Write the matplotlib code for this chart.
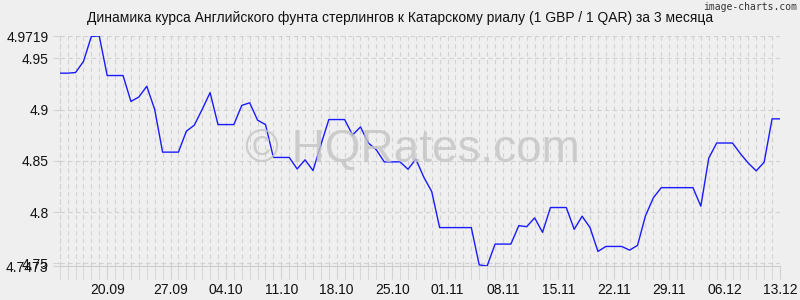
# -*- coding: utf-8 -*-
"""GBP/QAR rate over 3 months."""

import numpy as np
from matplotlib import pyplot as plt
from matplotlib.ticker import MultipleLocator

plt.rcParams['font.family'] = ['Liberation Sans', 'DejaVu Sans']

# daily rates, 13.09 .. 13.12
rates = [
    4.9356, 4.9356, 4.9362, 4.9470, 4.9715, 4.9719, 4.9333, 4.9333,
    4.9333, 4.9080, 4.9123, 4.9228, 4.9002, 4.8585, 4.8585, 4.8585,
    4.8789, 4.8848, 4.9002, 4.9166, 4.8854, 4.8854, 4.8854, 4.9041,
    4.9067, 4.8897, 4.8854, 4.8533, 4.8533, 4.8533, 4.8421, 4.8510,
    4.8405, 4.8657, 4.8903, 4.8903, 4.8903, 4.8752, 4.8831, 4.8674,
    4.8608, 4.8490, 4.8490, 4.8490, 4.8418, 4.8516, 4.8340, 4.8200,
    4.7848, 4.7848, 4.7848, 4.7848, 4.7848, 4.7484, 4.7473, 4.7687,
    4.7687, 4.7687, 4.7867, 4.7857, 4.7943, 4.7802, 4.8044, 4.8044,
    4.8044, 4.7831, 4.7959, 4.7848, 4.7615, 4.7664, 4.7664, 4.7664,
    4.7628, 4.7674, 4.7962, 4.8139, 4.8238, 4.8238, 4.8238, 4.8238,
    4.8238, 4.8057, 4.8526, 4.8674, 4.8674, 4.8674, 4.8570, 4.8477,
    4.8402, 4.8487, 4.8910, 4.8910,
]

xtick_pos = [6, 14, 21, 28, 35, 42, 49, 56, 63, 70, 77, 84, 91]
xtick_labels = ["20.09", "27.09", "04.10", "11.10", "18.10", "25.10", "01.11",
                "08.11", "15.11", "22.11", "29.11", "06.12", "13.12"]
ytick_vals = [4.7473, 4.75, 4.8, 4.85, 4.9, 4.95, 4.9719]
ytick_labels = ["4.7473", "4.75", "4.8", "4.85", "4.9", "4.95", "4.9719"]

title = "Динамика курса Английского фунта стерлингов к Катарскому риалу (1 GBP / 1 QAR) за 3 месяца"

bg = "#efefef"
grid_c = "#d2d2d2"

fig = plt.figure(figsize=(8, 3), dpi=100, facecolor=bg)
ax = fig.add_axes([59.7 / 800, 1 - 266 / 300, (780 - 59.7) / 800, (266 - 36) / 300])
ax.set_facecolor(bg)

x = np.arange(len(rates))
ax.plot(x, rates, color="#1a1aff", lw=1.0, zorder=3)

ax.set_xlim(0, len(rates) - 1)
ax.set_ylim(ytick_vals[0], ytick_vals[-1])

ax.set_xticks(xtick_pos)
ax.set_xticklabels(xtick_labels)
ax.xaxis.set_minor_locator(MultipleLocator(1))
ax.set_yticks(ytick_vals)
ax.set_yticklabels(ytick_labels)

ax.tick_params(axis="x", which="both", length=9, color=grid_c, labelsize=10,
               pad=3, labelcolor="#111111")
ax.tick_params(axis="y", length=5, color=grid_c, labelsize=10, pad=3,
               labelcolor="#111111")

ax.grid(True, which="both", axis="x", color=grid_c, ls=(0, (4, 3)), lw=0.8)
ax.grid(True, which="major", axis="y", color=grid_c, ls=(0, (4, 3)), lw=0.8)
for s in ["top", "right"]:
    ax.spines[s].set_visible(False)
ax.spines["left"].set_color(grid_c)
ax.spines["left"].set_linestyle((0, (4, 3)))
ax.spines["bottom"].set_color("#cccccc")

fig.text(400 / 800, 1 - 18 / 300, title, ha="center", va="center",
         fontsize=10, color="#111111")
fig.text(797 / 800, 1 - 7 / 300, "image-charts.com", ha="right", va="center",
         fontsize=7, color="#333333", family="DejaVu Sans Mono")
fig.text(412 / 800, 1 - 150 / 300, "© HQRates.com", ha="center", va="center",
         fontsize=33, color="#c4c4c4", alpha=0.8, zorder=1)

fig.savefig("out.png", dpi=100, facecolor=bg)
